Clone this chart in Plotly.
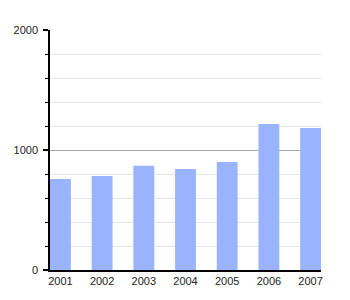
import plotly.graph_objects as go

years = ["2001", "2002", "2003", "2004", "2005", "2006", "2007"]
values = [758, 783, 869, 842, 900, 1217, 1183]
y_ticks = [0, 1000, 2000]

fig = go.Figure(go.Bar(x=years, y=values, marker=dict(color="#99b3ff", line=dict(width=0)), width=0.5))

fig.update_layout(
    width=350, height=300,
    margin=dict(l=50, r=29, t=30, b=30),
    paper_bgcolor="white", plot_bgcolor="white",
    font=dict(family="Liberation Sans, Arial, sans-serif", size=11, color="#222"),
    showlegend=False,
)
fig.update_xaxes(
    type="category", range=[-0.25, 6.25],
    showline=True, linecolor="black", linewidth=1.5,
    showgrid=False, ticks="", ticklabelstandoff=0,
)
fig.update_yaxes(
    range=[0, 2000], tickvals=y_ticks, ticktext=[str(v) for v in y_ticks],
    showline=True, linecolor="black", linewidth=1.5,
    showgrid=True, gridcolor="#aaaaaa", gridwidth=1,
    ticks="outside", ticklen=5, tickcolor="black", tickwidth=1.5,
    ticklabelstandoff=3,
    zeroline=False,
    minor=dict(dtick=200, showgrid=True, gridcolor="#e5e5e5", gridwidth=1,
               ticks="outside", ticklen=3, tickcolor="black", tickwidth=1),
)

fig.write_html("out.html")
